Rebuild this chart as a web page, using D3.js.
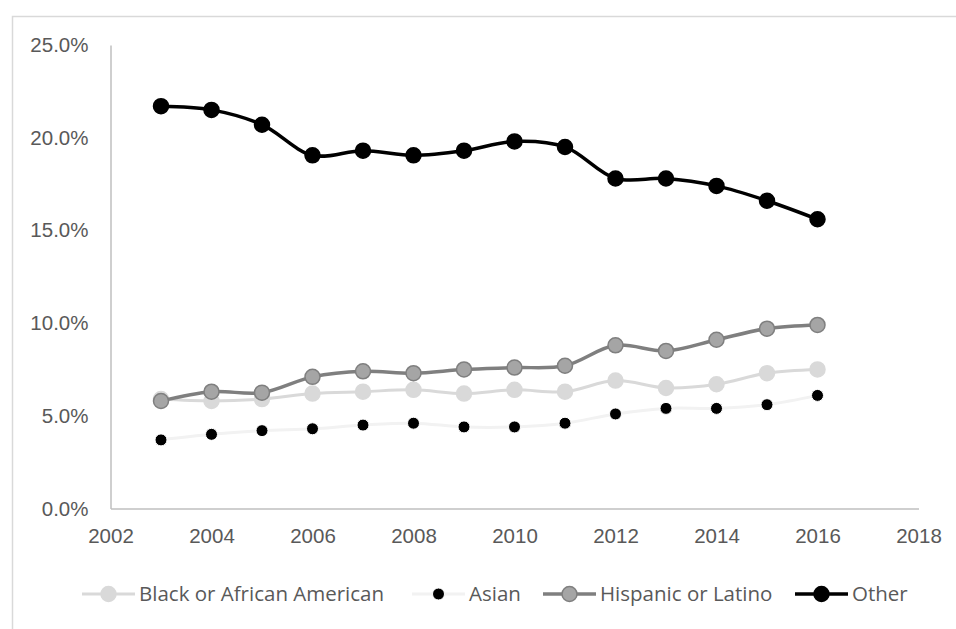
<!DOCTYPE html>
<html>
<head>
<meta charset="utf-8">
<script src="https://cdn.jsdelivr.net/npm/d3@7"></script>
<style>
  html, body { margin: 0; padding: 0; background: #fff; }
  svg { display: block; font-family: "Open Sans", sans-serif; }
</style>
</head>
<body>
<div id="chart"></div>
<script>
// years on the x axis
const years = [2003, 2004, 2005, 2006, 2007, 2008, 2009, 2010, 2011, 2012, 2013, 2014, 2015, 2016];

// percent values
const blackValues    = [5.9, 5.8, 5.9, 6.2, 6.3, 6.4, 6.2, 6.4, 6.3, 6.9, 6.5, 6.7, 7.3, 7.5];
const asianValues    = [3.7, 4.0, 4.2, 4.3, 4.5, 4.6, 4.4, 4.4, 4.6, 5.1, 5.4, 5.4, 5.6, 6.1];
const hispanicValues = [5.8, 6.3, 6.25, 7.1, 7.4, 7.3, 7.5, 7.6, 7.7, 8.8, 8.5, 9.1, 9.7, 9.9];
const otherValues    = [21.7, 21.5, 20.7, 19.05, 19.3, 19.05, 19.3, 19.8, 19.5, 17.8, 17.8, 17.4, 16.6, 15.6];

const xTicks = [2002, 2004, 2006, 2008, 2010, 2012, 2014, 2016, 2018];
const yTicks = [0, 5, 10, 15, 20, 25];

const seriesNames = ['Black or African American', 'Asian', 'Hispanic or Latino', 'Other'];

const W = 956, H = 629;
const plot = { left: 110.5, right: 918.5, top: 45, bottom: 508.5 };

// per series look
const styles = [
  { line: '#d9d9d9', width: 3, r: 7.5, fill: '#d9d9d9', stroke: '#d9d9d9', sw: 1.5 },
  { line: '#f2f2f2', width: 3, r: 6, fill: '#000000', stroke: '#ffffff', sw: 1 },
  { line: '#7f7f7f', width: 3.5, r: 7.5, fill: '#a5a5a5', stroke: '#7f7f7f', sw: 1.5 },
  { line: '#000000', width: 3.5, r: 7.5, fill: '#000000', stroke: '#000000', sw: 1.5 }
];

const allSeries = [blackValues, asianValues, hispanicValues, otherValues];

const svg = d3.select('#chart').append('svg')
  .attr('width', W)
  .attr('height', H);

// outer chart border (runs off the right and bottom)
svg.append('rect')
  .attr('x', 12.5).attr('y', 16.5)
  .attr('width', 1000).attr('height', 700)
  .attr('fill', 'none')
  .attr('stroke', '#d9d9d9')
  .attr('stroke-width', 1.5);

const x = d3.scaleLinear().domain([2002, 2018]).range([plot.left, plot.right]);
const y = d3.scaleLinear().domain([0, 25]).range([plot.bottom, plot.top]);

// y axis
const yAxis = svg.append('g')
  .attr('transform', 'translate(' + plot.left + ',0)')
  .call(d3.axisLeft(y).tickValues(yTicks).tickSize(0).tickPadding(22)
    .tickFormat(d => d.toFixed(1) + '%'));
yAxis.select('.domain').attr('stroke', '#bfbfbf').attr('stroke-width', 1.5);
yAxis.selectAll('text')
  .attr('fill', '#595959')
  .style('font-size', '20.5px');

// x axis
const xAxis = svg.append('g')
  .attr('transform', 'translate(0,' + plot.bottom + ')')
  .call(d3.axisBottom(x).tickValues(xTicks).tickSize(0).tickPadding(20)
    .tickFormat(d3.format('d')));
xAxis.select('.domain').attr('stroke', '#bfbfbf').attr('stroke-width', 1.5);
xAxis.selectAll('text')
  .attr('fill', '#595959')
  .style('font-size', '20.5px');

const line = d3.line()
  .x(d => x(d.year))
  .y(d => y(d.value))
  .curve(d3.curveCatmullRom.alpha(0.5));

// draw series in legend order
allSeries.forEach(function(values, i) {
  let st = styles[i];
  let data = years.map((yr, j) => ({ year: yr, value: values[j] }));
  let g = svg.append('g').attr('class', 'series');
  g.append('path')
    .attr('d', line(data))
    .attr('fill', 'none')
    .attr('stroke', st.line)
    .attr('stroke-width', st.width)
    .attr('stroke-linejoin', 'round');
  g.selectAll('circle').data(data).enter().append('circle')
    .attr('cx', d => x(d.year))
    .attr('cy', d => y(d.value))
    .attr('r', st.r)
    .attr('fill', st.fill)
    .attr('stroke', st.stroke)
    .attr('stroke-width', st.sw);
});

// legend
const legendY = 594;
const legendX = [82, 412, 543, 795];
const legend = svg.append('g').attr('class', 'legend');
seriesNames.forEach(function(name, i) {
  let st = styles[i];
  let lx = legendX[i];
  let item = legend.append('g');
  item.append('line')
    .attr('x1', lx).attr('x2', lx + 53)
    .attr('y1', legendY).attr('y2', legendY)
    .attr('stroke', st.line)
    .attr('stroke-width', st.width);
  item.append('circle')
    .attr('cx', lx + 26.5).attr('cy', legendY)
    .attr('r', st.r)
    .attr('fill', st.fill)
    .attr('stroke', st.stroke)
    .attr('stroke-width', st.sw);
  item.append('text')
    .attr('x', lx + 57).attr('y', legendY)
    .attr('dy', '0.35em')
    .attr('fill', '#595959')
    .style('font-size', '20.5px')
    .text(name);
});
</script>
</body>
</html>
